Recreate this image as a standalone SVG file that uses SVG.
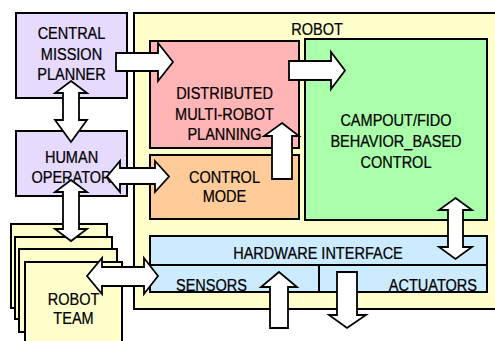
<svg xmlns="http://www.w3.org/2000/svg" width="495" height="341" viewBox="0 0 495 341">
<style>
.box{stroke:#000;stroke-width:2}
.arrow{fill:#fff;stroke:#000;stroke-width:1.8;stroke-linejoin:miter}
text{font-family:"Liberation Sans",Arial,sans-serif;font-size:16.5px;fill:#000;stroke:#000;stroke-width:0.25;text-anchor:middle}
.s{text-anchor:start}
.e{text-anchor:end}
</style>
<rect width="495" height="341" fill="#fff"/>
<g id="robot">
<rect class="box" x="134" y="13" width="380" height="296" fill="#FFFFCC"/>
<text transform="translate(317,35) scale(0.88,1)">ROBOT</text>
</g>
<g id="central-mission-planner">
<rect class="box" x="16" y="13" width="111" height="85" fill="#E6DAFF"/>
<text transform="translate(71.5,39) scale(0.88,1)">CENTRAL</text>
<text transform="translate(71.5,59.5) scale(0.88,1)">MISSION</text>
<text transform="translate(71.5,80) scale(0.88,1)">PLANNER</text>
</g>
<g id="human-operator">
<rect class="box" x="16" y="131" width="111" height="65" fill="#E6DAFF"/>
<text transform="translate(71.5,163) scale(0.88,1)">HUMAN</text>
<text transform="translate(71.5,183) scale(0.88,1)">OPERATOR</text>
</g>
<g id="robot-team">
<rect class="box" x="11" y="224" width="96" height="84" fill="#FFFFCC"/>
<rect class="box" x="15" y="237" width="97" height="82" fill="#FFFFCC"/>
<rect class="box" x="19" y="249" width="98" height="83" fill="#FFFFCC"/>
<rect class="box" x="25" y="262" width="97" height="90" fill="#FFFFCC"/>
<text transform="translate(73.5,305) scale(0.88,1)">ROBOT</text>
<text transform="translate(73.5,324) scale(0.88,1)">TEAM</text>
</g>
<g id="distributed-planning">
<rect class="box" x="150" y="41" width="149" height="107" fill="#FFB5B5"/>
<text transform="translate(224.5,99) scale(0.88,1)">DISTRIBUTED</text>
<text transform="translate(224.5,119.5) scale(0.88,1)">MULTI-ROBOT</text>
<text transform="translate(224.5,140) scale(0.88,1)">PLANNING</text>
</g>
<g id="control-mode">
<rect class="box" x="150" y="155" width="149" height="64" fill="#FFCC99"/>
<text transform="translate(224.5,183) scale(0.88,1)">CONTROL</text>
<text transform="translate(224.5,202) scale(0.88,1)">MODE</text>
</g>
<g id="behavior-control">
<rect class="box" x="305" y="39" width="182" height="181" fill="#AAFFAA"/>
<text transform="translate(396,126) scale(0.88,1)">CAMPOUT/FIDO</text>
<text transform="translate(396,147) scale(0.88,1)">BEHAVIOR_BASED</text>
<text transform="translate(396,168) scale(0.88,1)">CONTROL</text>
</g>
<g id="hardware-interface">
<rect class="box" x="150" y="236" width="337" height="56" fill="#CCEBFF"/>
<line class="box" x1="150" y1="265" x2="487" y2="265"/>
<line class="box" x1="319" y1="265" x2="319" y2="292"/>
<text transform="translate(318,259) scale(0.88,1)">HARDWARE INTERFACE</text>
<text class="s" transform="translate(176,291) scale(0.88,1)">SENSORS</text>
<text class="e" transform="translate(477,291) scale(0.88,1)">ACTUATORS</text>
</g>
<g id="connectors">
<polygon class="arrow" points="116,53 158,53 158,43 173,62 158,81 158,71 116,71"/>
<polygon class="arrow" points="289,61 331,61 331,52 345,70.5 331,89 331,80 289,80"/>
<polygon class="arrow" points="71,81 87,93 79,93 79,120 87,120 71,142 55,120 63,120 63,93 55,93"/>
<polygon class="arrow" points="107,176.5 120,161 120,168 155,168 155,161 169,176.5 155,192 155,184 120,184 120,192"/>
<polygon class="arrow" points="282,123 299,136 292,136 292,179 272,179 272,136 264,136"/>
<polygon class="arrow" points="71,180 87,192 79,192 79,229 87,229 71,241 55,229 63,229 63,192 55,192"/>
<polygon class="arrow" points="87,276 102,258 102,267 144,267 144,258 158,276 144,294 144,286 102,286 102,294"/>
<polygon class="arrow" points="455.5,198 472,210 463,210 463,247 472,247 455.5,259 439,247 448,247 448,210 439,210"/>
<polygon class="arrow" points="279,272 297,287 288,287 288,328 270,328 270,287 261,287"/>
<polygon class="arrow" points="337,272 357,272 357,315 366,315 347,328 329,315 337,315"/>
</g>
</svg>
